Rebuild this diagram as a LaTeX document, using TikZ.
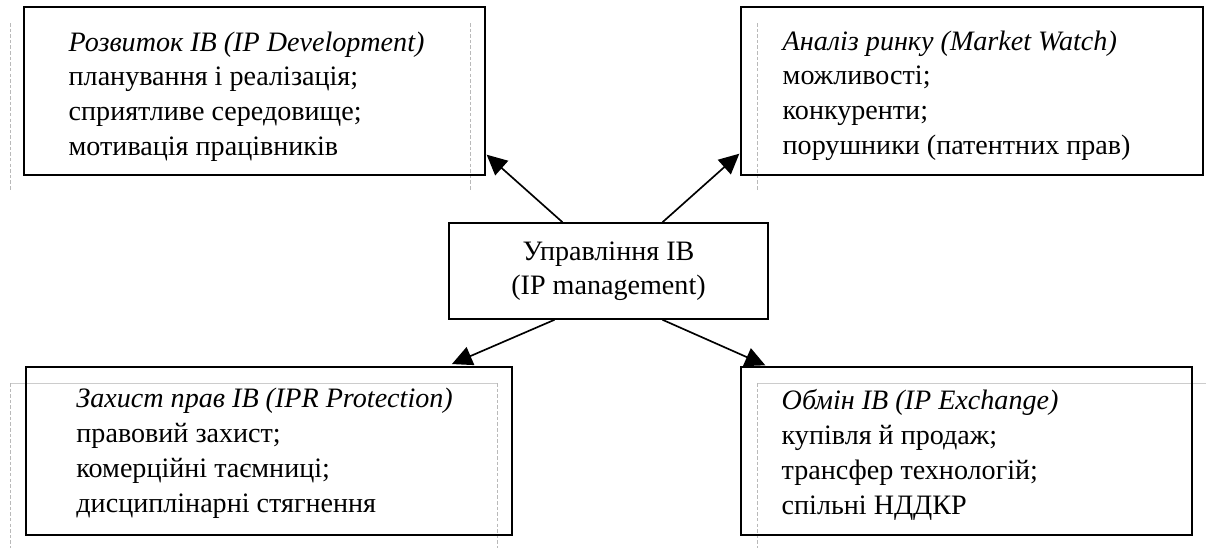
\documentclass[tikz,border=0pt]{standalone}
\usepackage{fontspec}
\setmainfont{Liberation Serif}
\usetikzlibrary{calc,arrows.meta}

\tikzset{
  areabox/.style={draw, line width=0.8pt, rectangle, minimum height=3.36cm},
  areatext/.style={inner sep=0pt, anchor=north west, align=left, font=\fontsize{16}{19.8}\selectfont},
  flow/.style={line width=0.95pt, -{Triangle[length=11.5pt,width=11pt]}},
  guide/.style={gray!55, line width=0.4pt, dash pattern=on 2pt off 1.2pt}
}

\begin{document}
\begin{tikzpicture}[x=0.02cm, y=-0.02cm]
		% Fix the page size
		\useasboundingbox (0,0) rectangle (1206,548);
	
		% Faint text-frame guides
		\draw[guide] (10,23) -- (10,190);
		\draw[guide] (470,23) -- (470,190);
		\draw[guide] (757,23) -- (757,190);
		\draw[gray!40, line width=0.4pt] (10,383) -- (497,383);
		\draw[guide] (10,383) -- (10,548);
		\draw[guide] (497,383) -- (497,548);
		\draw[gray!40, line width=0.4pt] (757,383) -- (1206,383);
		\draw[guide] (757,383) -- (757,548);
	
		% The central box
		\node[draw, line width=0.9pt, align=center, minimum width=6.38cm, minimum height=1.92cm,
			font=\fontsize{16}{19.5}\selectfont] (mgmt) at (608.5,271)
			{Управління ІВ\\(IP management)};
	
		% The four area boxes
		\node[areabox, minimum width=9.22cm] (devel) at (254.5,91) {};
		\node[areabox, minimum width=9.24cm] (market) at (972,91) {};
		\node[areabox, line width=1.1pt, minimum width=9.72cm] (protect) at (269,451) {};
		\node[areabox, minimum width=9.02cm] (exch) at (966.5,451) {};
	
		% Their texts
		\node[areatext] (develtext) at ($(devel.north west)+(45,25)$)
			{\textit{Розвиток ІВ (IP Development)}\\планування і реалізація;\\сприятливе середовище;\\мотивація працівників};
		\node[areatext] (markettext) at ($(market.north west)+(42,24)$)
			{\textit{Аналіз ринку (Market Watch)}\\можливості;\\конкуренти;\\порушники (патентних прав)};
		\node[areatext] (protecttext) at ($(protect.north west)+(51,22)$)
			{\textit{Захист прав ІВ (IPR Protection)}\\правовий захист;\\комерційні таємниці;\\дисциплінарні стягнення};
		\node[areatext] (exchtext) at ($(exch.north west)+(41,23)$)
			{\textit{Обмін ІВ (IP Exchange)}\\купівля й продаж;\\трансфер технологій;\\спільні НДДКР};
	
		% Arrows from the centre
		\draw[flow] ($(mgmt.north)+(-46,0)$) -- ($(devel.south east)+(1,-21)$);
		\draw[flow] ($(mgmt.north)+(54,0)$) -- ($(market.south west)+(-1,-22)$);
		\draw[flow] ($(mgmt.south)+(-54,0)$) -- ($(protect.north east)+(-61,-2)$);
		\draw[flow] ($(mgmt.south)+(54,0)$) -- ($(exch.north west)+(25,-1)$);
	
	\end{tikzpicture}
\end{document}
